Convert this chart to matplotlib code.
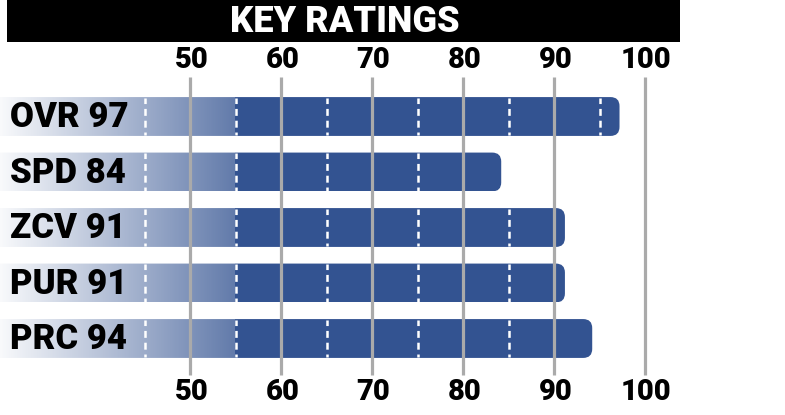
import numpy as np
import matplotlib
matplotlib.use("Agg")
import matplotlib.pyplot as plt
from matplotlib.patches import FancyBboxPatch, Rectangle

plt.rcParams['font.family'] = ['Roboto', 'DejaVu Sans']
plt.rcParams['lines.scale_dashes'] = False

# data
categories = ["OVR", "SPD", "ZCV", "PUR", "PRC"]
ratings = [97, 84, 91, 91, 94]
grid_ticks = [50, 60, 70, 80, 90, 100]
dash_ticks = [45, 55, 65, 75, 85, 95]
title = "KEY RATINGS"

BLUE = np.array([51, 83, 145]) / 255.0
GRID = "#aaaaaa"
BAR_START = 27.5       # bars run off the left edge
FADE_END = 55          # gradient is solid from here on
BAR_H = 0.70

W, H = 785, 415
fig = plt.figure(figsize=(W / 100, H / 100), dpi=100)
ax = fig.add_axes([0, 0, 1, 1])
ax.axis("off")

# x: 50 -> 190px, 100 -> 645px ; y: row centres 116.5px + 55.5px * i
px_per_unit = (645 - 190) / 50
xmin = 50 - 190 / px_per_unit
xmax = 50 + (W - 190) / px_per_unit
row0, pitch = 116.5, 55.5
ytop = -row0 / pitch
ybot = (H - row0) / pitch

# gradient colours along x: fades from white, then jumps to solid at FADE_END
xs = np.linspace(BAR_START, 100, 1200)
t = 0.03 + 0.74 * np.clip((xs - xmin) / (FADE_END - xmin), 0, 1)
t[xs >= FADE_END] = 1.0
grad = (1 - t)[:, None] * np.ones(3) + t[:, None] * BLUE
img = grad[None, :, :]

r_px = 9
for i, (cat, val) in enumerate(zip(categories, ratings)):
    y0 = i - BAR_H / 2
    patch = FancyBboxPatch((BAR_START, y0), val + 0.2 - BAR_START, BAR_H,
                           boxstyle=f"round,pad=0,rounding_size={r_px / px_per_unit}",
                           mutation_aspect=(1 / pitch) / (1 / px_per_unit),
                           facecolor="none", edgecolor="none", zorder=1)
    ax.add_patch(patch)
    im = ax.imshow(img, extent=(BAR_START, 100, i + BAR_H / 2, i - BAR_H / 2),
                   aspect="auto", interpolation="nearest", zorder=1)
    im.set_clip_path(patch)
    # white dashed guides inside the bar
    for d in dash_ticks:
        if d < val - 0.5:
            ax.vlines(d, y0 + 0.01, y0 + BAR_H - 0.01, colors="white",
                      linewidth=1.8, linestyles=(1, (5, 3.5)), zorder=2)
    ax.text(10 / px_per_unit + xmin, i + 0.02, f"{cat} {val}", ha="left", va="center",
            fontsize=25, fontweight="heavy", color="black", zorder=4)

# grey grid lines on top of the bars
g_top = (77 - row0) / pitch
g_bot = (375 - row0) / pitch
ax.vlines(grid_ticks, g_top, g_bot, colors=GRID, linewidth=2.3, zorder=3)

for g in grid_ticks:
    for yy in [(60 - row0) / pitch, (392 - row0) / pitch]:
        ax.text(g + 0.15, yy, str(g), ha="center", va="center",
                fontsize=21, fontweight="heavy", color="black")

ax.set_xlim(xmin, xmax)
ax.set_ylim(ybot, ytop)

# title bar
fig.patches.append(Rectangle((7 / W, 1 - 42 / H), 673 / W, 42 / H,
                             transform=fig.transFigure, facecolor="black",
                             edgecolor="none", zorder=0))
fig.text(345 / W, 1 - 22 / H, title, ha="center", va="center",
         fontsize=26, fontweight="heavy", color="white")

fig.savefig("out.png", dpi=100)
